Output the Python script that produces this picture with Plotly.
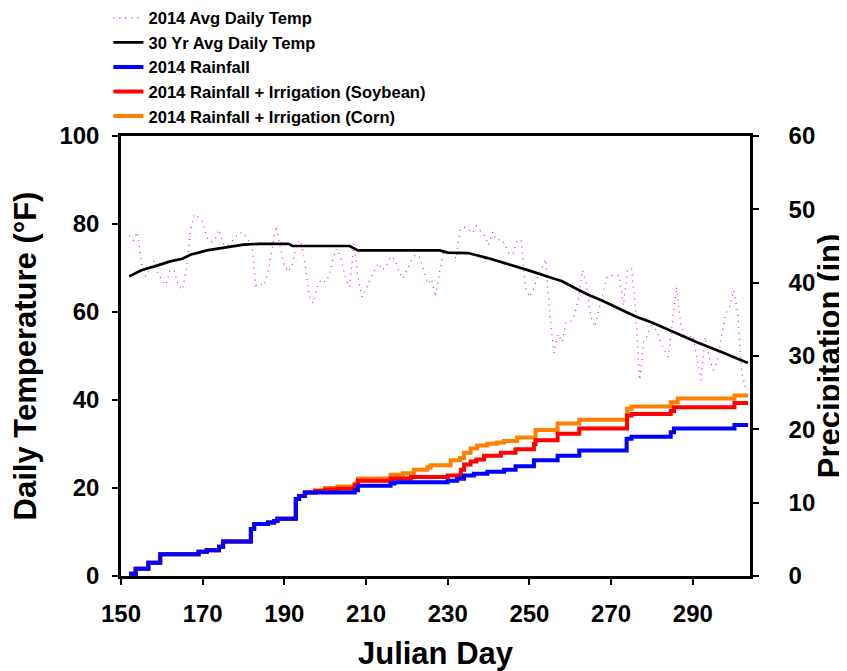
import plotly.graph_objects as go

# ---------------- data ----------------
temp_days = list(range(152, 304))
temp_2014 = [77.4, 76.3, 78.2, 71.0, 68.1, 69.5, 71.6, 68.7, 67.3, 66.1,
             69.5, 69.5, 66.1, 65.0, 69.5, 78.6, 82.2, 81.5, 80.5, 77.0,
             75.9, 76.4, 78.7, 75.5, 74.9, 76.0, 77.0, 78.0, 78.0, 76.3,
             76.0, 66.0, 66.5, 66.0, 69.1, 74.4, 79.5, 74.8, 70.6, 69.1,
             71.0, 75.5, 76.3, 71.4, 64.1, 62.0, 65.7, 67.4, 66.8, 68.3,
             72.5, 74.4, 71.7, 67.4, 65.7, 75.5, 68.0, 63.4, 65.1, 67.5,
             69.5, 71.1, 69.5, 70.5, 72.6, 72.0, 69.5, 67.6, 69.5, 71.5,
             73.0, 72.5, 70.0, 66.5, 67.5, 63.4, 69.1, 73.6, 73.6, 74.0,
             72.1, 78.6, 79.3, 78.9, 77.9, 79.5, 78.4, 77.4, 75.2, 78.2,
             76.3, 76.5, 75.5, 73.1, 73.3, 76.4, 76.1, 65.7, 63.4, 65.3,
             68.0, 70.0, 72.0, 59.2, 50.7, 55.0, 53.2, 57.7, 57.7, 59.2,
             63.0, 69.5, 66.0, 59.0, 56.6, 60.5, 64.5, 68.0, 68.3, 68.3,
             68.3, 61.5, 69.5, 69.9, 60.4, 44.5, 53.6, 54.7, 57.7, 55.8,
             53.6, 51.3, 49.8, 57.5, 65.7, 57.4, 54.7, 54.3, 54.7, 49.8,
             44.5, 54.3, 49.8, 46.8, 48.6, 54.3, 59.6, 61.1, 64.9, 60.0,
             46.0, 42.6]

avg30_days = [152, 155, 159, 162, 165, 167, 171, 177, 180, 184, 191, 192, 206,
              208, 228, 230, 235, 240, 246, 250, 254, 258, 261, 264, 268, 272,
              276, 280, 285, 288, 291, 297, 302, 303.5]
avg30_temp = [68.1, 69.5, 70.6, 71.5, 72.1, 73.0, 74.0, 74.9, 75.3, 75.5, 75.5,
              75.0, 75.0, 74.0, 74.0, 73.5, 73.4, 72.2, 70.6, 69.4, 68.2, 67.0,
              65.5, 64.1, 62.5, 60.8, 59.0, 57.6, 55.6, 54.4, 53.1, 50.9, 49.1,
              48.4]

# cumulative precipitation (in), step breakpoints
base_days = [152, 153.6, 156.7, 159.6, 169, 171, 174, 175, 181.8, 182.6, 186,
             187.5, 188.3, 192.8, 193.6, 195]
base_rain = [0.3, 1.0, 1.8, 2.95, 3.3, 3.5, 4.0, 4.7, 6.4, 7.1, 7.3, 7.5, 7.8,
             10.5, 10.9, 11.4]

rain_days = base_days + [207.2, 208, 216, 217, 230, 232.3, 234, 236.4, 239.7,
                         243.8, 246.6, 251.1, 256.9, 262.2, 273.8, 275, 284.6,
                         285.4, 300.2, 303.5]
rain_vals = base_rain + [11.7, 12.3, 12.6, 12.8, 13.0, 13.25, 13.7, 13.96, 14.2,
                         14.5, 14.96, 15.8, 16.4, 17.1, 18.7, 19.0, 19.6, 20.1,
                         20.6, 20.6]

soy_days = base_days + [197.5, 200, 203, 207.2, 208, 216, 221, 230, 233.2, 234,
                        235.6, 237, 238.9, 243, 246.6, 251.1, 251.5, 256.9,
                        262.2, 273.9, 275, 284.6, 285.4, 300.2, 303.5]
soy_vals = base_rain + [11.6, 11.8, 11.9, 12.4, 13.0, 13.3, 13.5, 13.7, 14.5,
                        15.2, 15.6, 15.9, 16.4, 16.8, 17.3, 18.0, 18.5, 19.4,
                        20.1, 21.9, 22.1, 22.5, 23.0, 23.6, 23.6]

corn_days = base_days + [197.5, 200, 203, 207.2, 208, 216, 219, 221.7, 225,
                         225.8, 230.7, 233, 234, 235.6, 237.2, 239.7, 242,
                         243.8, 247, 251.5, 256.9, 262.2, 273.9, 275, 284.6,
                         286.3, 300.2, 303.5]
corn_vals = base_rain + [11.7, 12.0, 12.2, 12.6, 13.3, 13.8, 14.0, 14.5, 14.8,
                         15.1, 15.8, 16.1, 16.8, 17.4, 17.8, 18.05, 18.2, 18.4,
                         18.9, 19.9, 20.8, 21.3, 22.8, 23.1, 23.7, 24.2, 24.6,
                         24.6]

x_ticks = [150, 170, 190, 210, 230, 250, 270, 290]

# ---------------- figure ----------------
FONT = "Liberation Sans, Arial, sans-serif"
fig = go.Figure()

fig.add_trace(go.Scatter(x=corn_days, y=corn_vals, yaxis="y2", mode="lines",
                         line=dict(color="#ff8000", width=4, shape="hv"),
                         name="2014 Rainfall + Irrigation (Corn)", legendrank=5))
fig.add_trace(go.Scatter(x=soy_days, y=soy_vals, yaxis="y2", mode="lines",
                         line=dict(color="#ff0000", width=4, shape="hv"),
                         name="2014 Rainfall + Irrigation (Soybean)", legendrank=4))
fig.add_trace(go.Scatter(x=rain_days, y=rain_vals, yaxis="y2", mode="lines",
                         line=dict(color="#0000ff", width=4, shape="hv"),
                         name="2014 Rainfall", legendrank=3))
fig.add_trace(go.Scatter(x=temp_days, y=temp_2014, mode="lines",
                         line=dict(color="#e020e0", width=1.3, dash="1px,5px"),
                         name="2014 Avg Daily Temp", legendrank=1))
fig.add_trace(go.Scatter(x=avg30_days, y=avg30_temp, mode="lines",
                         line=dict(color="black", width=2.7),
                         name="30 Yr Avg Daily Temp", legendrank=2))

axis_common = dict(showline=True, linecolor="black", linewidth=2.5,
                   ticks="outside", ticklen=6, tickwidth=2, tickcolor="black",
                   showgrid=False, zeroline=False,
                   tickfont=dict(family=FONT, size=24, color="black", weight="bold"))

TITLE_FONT = dict(family=FONT, size=31, color="black", weight="bold")

# the page body adds an 8px offset; the figure is sized to fill the window
fig.update_layout(
    width=839, height=663, autosize=False,
    margin=dict(l=113, r=97, t=128, b=95, autoexpand=False),
    plot_bgcolor="white", paper_bgcolor="white",
    showlegend=True,
    legend=dict(x=-0.02, y=1.308, xanchor="left", yanchor="top",
                bgcolor="rgba(0,0,0,0)", traceorder="normal",
                font=dict(family=FONT, size=16.6, color="black", weight="bold")),
    xaxis=dict(range=[150, 304], tickvals=x_ticks, mirror=True,
               title=dict(text="Julian Day", standoff=17, font=TITLE_FONT),
               ticklabelstandoff=8, **axis_common),
    yaxis=dict(range=[0, 100], dtick=20, tick0=0,
               title=dict(text="Daily Temperature (°F)", standoff=18, font=TITLE_FONT),
               ticklabelstandoff=8, **axis_common),
    yaxis2=dict(range=[0, 60], dtick=10, tick0=0, overlaying="y", side="right",
                title=dict(text="Precipitation (in)", standoff=0, font=TITLE_FONT),
                ticklabelstandoff=25, **axis_common),
)

fig.write_html("out.html")
